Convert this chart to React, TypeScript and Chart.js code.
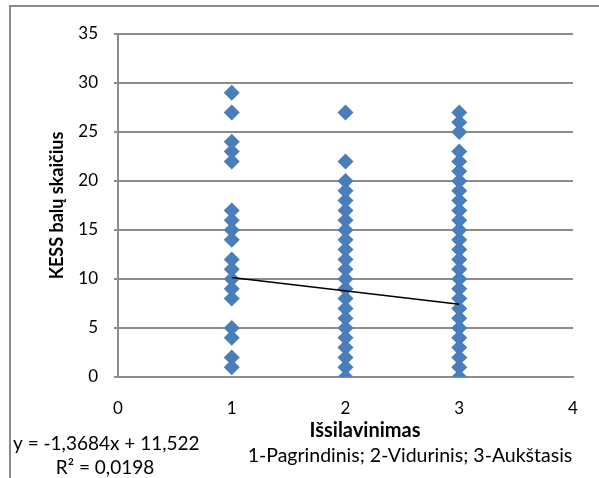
import React, { useEffect, useRef } from 'react';
import { Chart, registerables } from 'chart.js';

Chart.register(...registerables);

// Education level (x) → KESS scores (y)
const levelPagrindinis = 1;
const levelVidurinis = 2;
const levelAukstasis = 3;

const scoresPagrindinis = [29, 27, 24, 23, 22, 17, 16, 15, 14, 12, 11, 10, 9, 8, 5, 4, 2, 1];
const scoresVidurinis = [27, 22, 20, 19, 18, 17, 16, 15, 14, 13, 12, 11, 10, 9, 8, 7, 6, 5, 4, 3, 2, 1, 0];
const scoresAukstasis = [27, 26, 25, 23, 22, 21, 20, 19, 18, 17, 16, 15, 14, 13, 12, 11, 10, 9, 8, 7, 6, 5, 4, 3, 2, 1, 0];

// Linear trend line shown in the chart (Excel)
const trendSlope = -1.3684;
const trendIntercept = 11.522;
const trendXs = [1, 3];

const xTicks = [0, 1, 2, 3, 4];
const yTicks = [0, 5, 10, 15, 20, 25, 30, 35];

const yTitle = 'KESS balų skaičius';
const xTitle = 'Išsilavinimas';
const xNote = '1-Pagrindinis; 2-Vidurinis; 3-Aukštasis';
const eqLine1 = 'y = -1,3684x + 11,522';
const eqLine2 = 'R² = 0,0198';

const FONT = 'Lato, "Liberation Sans", sans-serif';
const MARKER = '#4A7EBB';
const GRID = '#8c8c8c';

const extraPlugin = {
  id: 'extraText',
  beforeDraw(chart: any) {
    const ctx = chart.ctx;
    ctx.save();
    ctx.fillStyle = '#ffffff';
    ctx.fillRect(0, 0, chart.width, chart.height);
    ctx.strokeStyle = '#8c8c8c';
    ctx.lineWidth = 2;
    ctx.strokeRect(10, 6, 800, 800);
    ctx.restore();
  },
  afterDraw(chart: any) {
    const ctx = chart.ctx;
    ctx.save();
    ctx.fillStyle = '#000000';
    ctx.textBaseline = 'middle';
    ctx.font = `bold 20px ${FONT}`;
    ctx.textAlign = 'center';
    ctx.fillText(xTitle, 365, 431);
    ctx.font = `19px ${FONT}`;
    ctx.textAlign = 'left';
    ctx.fillText(eqLine1, 13, 444);
    ctx.textAlign = 'center';
    ctx.fillText(eqLine2, 105, 468);
    ctx.font = `19.5px ${FONT}`;
    ctx.fillText(xNote, 410, 456);
    ctx.restore();
  },
};

function pointsFor(level: number, scores: number[]) {
  return scores.map((s) => ({ x: level, y: s }));
}

export default function App() {
  const ref = useRef<HTMLCanvasElement>(null);
  useEffect(() => {
    document.body.style.margin = '0';
    const canvas = ref.current!;
    const data = [
      ...pointsFor(levelPagrindinis, scoresPagrindinis),
      ...pointsFor(levelVidurinis, scoresVidurinis),
      ...pointsFor(levelAukstasis, scoresAukstasis),
    ];
    const trend = trendXs.map((x) => ({ x, y: trendSlope * x + trendIntercept }));
    const chart = new Chart(canvas, {
      type: 'scatter',
      data: {
        datasets: [
          {
            label: 'KESS',
            data,
            pointStyle: 'rectRot',
            pointRadius: 8,
            pointBackgroundColor: MARKER,
            pointBorderColor: MARKER,
            pointBorderWidth: 0,
            order: 2,
          },
          {
            label: 'Trend',
            type: 'line',
            data: trend,
            borderColor: '#000000',
            borderWidth: 1.5,
            pointRadius: 0,
            fill: false,
            order: 1,
          } as any,
        ],
      },
      options: {
        responsive: false,
        animation: false,
        devicePixelRatio: 1,
        layout: { padding: { top: 34, right: 26, left: 0, bottom: 0 } },
        plugins: { legend: { display: false }, tooltip: { enabled: false } },
        scales: {
          x: {
            type: 'linear',
            min: 0,
            max: 4,
            afterBuildTicks: (s: any) => { s.ticks = xTicks.map((v) => ({ value: v })); },
            afterFit: (s: any) => { s.height = 101; },
            grid: { display: false, drawTicks: false },
            border: { display: true, color: GRID, width: 2 },
            ticks: { color: '#000', font: { family: FONT, size: 17 }, padding: 21 },
            title: { display: false },
          },
          y: {
            type: 'linear',
            min: 0,
            max: 35,
            afterBuildTicks: (s: any) => { s.ticks = yTicks.map((v) => ({ value: v })); },
            afterFit: (s: any) => { s.width = 118; },
            grid: { display: true, color: GRID, lineWidth: 2, drawTicks: true, tickLength: 4 },
            border: { display: true, color: GRID, width: 2 },
            ticks: { color: '#000', font: { family: FONT, size: 17 }, padding: 16 },
            title: {
              display: true,
              text: yTitle,
              color: '#000',
              font: { family: FONT, size: 18, weight: 'bold' },
              padding: { top: 46, bottom: 0 },
            },
          },
        },
      },
      plugins: [extraPlugin],
    });
    return () => chart.destroy();
  }, []);
  return <canvas ref={ref} width={599} height={478} style={{ display: 'block' }} />;
}
